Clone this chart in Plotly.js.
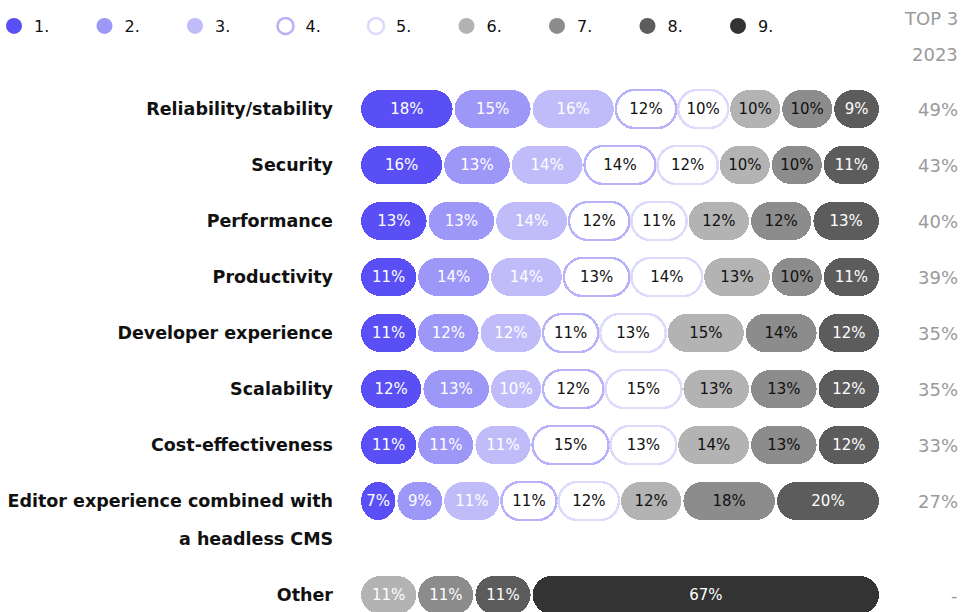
<!DOCTYPE html>
<html>
<head>
<meta charset="utf-8">
<script src="https://cdn.plot.ly/plotly-3.0.1.min.js"></script>
<style>html,body{margin:0;padding:0;background:#fff;}#chart{width:963px;height:612px;}</style>
</head>
<body>
<div id="chart"></div>
<script>
// ---- data ----
const categories = ["Reliability/stability", "Security", "Performance", "Productivity",
  "Developer experience", "Scalability", "Cost-effectiveness",
  "Editor experience combined with<br>a headless CMS"];
const otherCategory = ["Other"];
const rankNames = ["1.", "2.", "3.", "4.", "5.", "6.", "7.", "8.", "9."];
const rank1 = [18, 16, 13, 11, 11, 12, 11, 7];
const rank2 = [15, 13, 13, 14, 12, 13, 11, 9];
const rank3 = [16, 14, 14, 14, 12, 10, 11, 11];
const rank4 = [12, 14, 12, 13, 11, 12, 15, 11];
const rank5 = [10, 12, 11, 14, 13, 15, 13, 12];
const rank6 = [10, 10, 12, 13, 15, 13, 14, 12];
const rank7 = [10, 10, 12, 10, 14, 13, 13, 18];
const rank8 = [9, 11, 13, 11, 12, 12, 12, 20];
const rank9 = [null, null, null, null, null, null, null, null];
const otherValues = [null, null, null, null, null, 11, 11, 11, 67];
const top3 = ["49%", "43%", "40%", "39%", "35%", "35%", "33%", "27%"];
const otherTop3 = "-";

// ---- styles ----
const fills = ["#5a4ff4", "#9d97f7", "#c0bcfa", "#ffffff", "#ffffff", "#b3b3b3", "#8c8c8c", "#5c5c5c", "#333333"];
const borders = [null, null, null, "#b7b2f9", "#dddbfc", null, null, null, null];
const textCols = ["#ffffff", "#ffffff", "#ffffff", "#111111", "#111111", "#111111", "#111111", "#ffffff", "#ffffff"];
const FONT = "'DejaVu Sans', sans-serif";
const LABEL_FONT = {family: FONT, size: 17.5, color: "#111", weight: 700};
const GREY_FONT = {family: FONT, size: 18, color: "#9a9a9a"};

// plot area geometry (layout only)
const H = 612, T = 81, PH = H - T;
const py = px => 1 + (T - px) / PH;        // pixel row -> paper y
const rightX = 1.153;

const ranks = [rank1, rank2, rank3, rank4, rank5, rank6, rank7, rank8, rank9];
const traces = [];
ranks.forEach((vals, i) => {
  traces.push({
    type: "bar", orientation: "h", x: vals, y: categories,
    xaxis: "x", yaxis: "y", width: 0.68,
    marker: {color: fills[i], line: {color: borders[i] || fills[i], width: borders[i] ? 2.5 : 0}},
    text: vals.map(v => v == null ? "" : v + "%"),
    textposition: "inside", insidetextanchor: "middle", constraintext: "none", textangle: 0,
    textfont: {family: FONT, size: 15, color: textCols[i]},
    hoverinfo: "skip", showlegend: false
  });
});
// Other row
otherValues.forEach((v, i) => {
  if (v == null) return;
  traces.push({
    type: "bar", orientation: "h", x: [v], y: otherCategory,
    xaxis: "x", yaxis: "y2", width: 0.68, cliponaxis: false,
    marker: {color: fills[i], line: {width: 0}},
    text: [v + "%"], textposition: "inside", insidetextanchor: "middle", constraintext: "none", textangle: 0,
    textfont: {family: FONT, size: 15, color: "#ffffff"},
    hoverinfo: "skip", showlegend: false
  });
});
// legend entries
rankNames.forEach((n, i) => {
  traces.push({
    type: "scatter", mode: "markers", x: [null], y: [null], xaxis: "x", yaxis: "y",
    name: n, showlegend: true,
    marker: {size: 16, symbol: borders[i] ? "circle-open" : "circle",
             color: borders[i] || fills[i], line: {width: borders[i] ? 2.5 : 0, color: borders[i] || fills[i]}}
  });
});

const annotations = [];
categories.forEach((c, i) => {
  annotations.push({xref: "paper", yref: "y", x: rightX, y: c, text: top3[i], showarrow: false,
    xanchor: "right", yanchor: "middle", font: GREY_FONT});
  const parts = c.split("<br>");
  if (parts.length > 1) {
    annotations.push({xref: "paper", yref: "y", x: -0.0485, y: c, yshift: -38, text: parts[1], showarrow: false,
      xanchor: "right", yanchor: "middle", font: LABEL_FONT});
  }
});
annotations.push({xref: "paper", yref: "y2", x: rightX, y: otherCategory[0], text: otherTop3, showarrow: false,
  xanchor: "right", yanchor: "middle", font: GREY_FONT});
annotations.push({xref: "paper", yref: "paper", x: rightX, y: py(18), text: "TOP 3", showarrow: false,
  xanchor: "right", yanchor: "middle", font: GREY_FONT});
annotations.push({xref: "paper", yref: "paper", x: rightX, y: py(55), text: "2023", showarrow: false,
  xanchor: "right", yanchor: "middle", font: GREY_FONT});

const layout = {
  width: 963, height: H,
  margin: {l: 360, r: 83, t: T, b: 0, autoexpand: false},
  paper_bgcolor: "#fff", plot_bgcolor: "#fff",
  barmode: "stack", bargap: 0,
  font: {family: FONT, size: 16, color: "#111"},
  showlegend: true,
  legend: {orientation: "h", traceorder: "normal", x: -366 / 520, y: py(9), xanchor: "left", yanchor: "top",
    entrywidth: 45.5, font: {family: FONT, size: 16, color: "#111"}, itemclick: false, itemdoubleclick: false,
    bgcolor: "rgba(0,0,0,0)"},
  xaxis: {range: [0, 100], visible: false, fixedrange: true},
  yaxis: {type: "category", categoryorder: "array", categoryarray: categories, autorange: false,
    range: [7.5, -0.5], domain: [1 - 448 / PH, 1], anchor: "x",
    showgrid: false, zeroline: false, showline: false, ticks: "", ticklen: 0,
    tickvals: categories, ticktext: categories.map(c => c.split("<br>")[0]),
    tickfont: LABEL_FONT, ticklabelstandoff: 26},
  yaxis2: {type: "category", range: [-17 / 56, 0.5], autorange: false, domain: [0, 45 / PH], anchor: "x",
    showgrid: false, zeroline: false, showline: false, ticks: "",
    tickfont: LABEL_FONT, ticklabelstandoff: 26},
  annotations: annotations
};

Plotly.newPlot("chart", traces, layout, {staticPlot: true, displayModeBar: false}).then(gd => {
  // round each bar into a pill shape
  gd.querySelectorAll(".barlayer .point path").forEach(p => {
    const b = p.getBBox();
    if (!b.width || !b.height) return;
    const inset = 1;
    const x0 = b.x + inset, x1 = b.x + b.width - inset, y0 = b.y, y1 = b.y + b.height;
    const w = x1 - x0, h = y1 - y0;
    const r = Math.min(h / 2, w / 2);
    const d = "M" + (x0 + r) + "," + y0 + "H" + (x1 - r) +
      "A" + r + "," + (h / 2) + " 0 0 1 " + (x1 - r) + "," + y1 +
      "H" + (x0 + r) + "A" + r + "," + (h / 2) + " 0 0 1 " + (x0 + r) + "," + y0 + "Z";
    p.setAttribute("d", d);
  });
});
</script>
</body>
</html>
